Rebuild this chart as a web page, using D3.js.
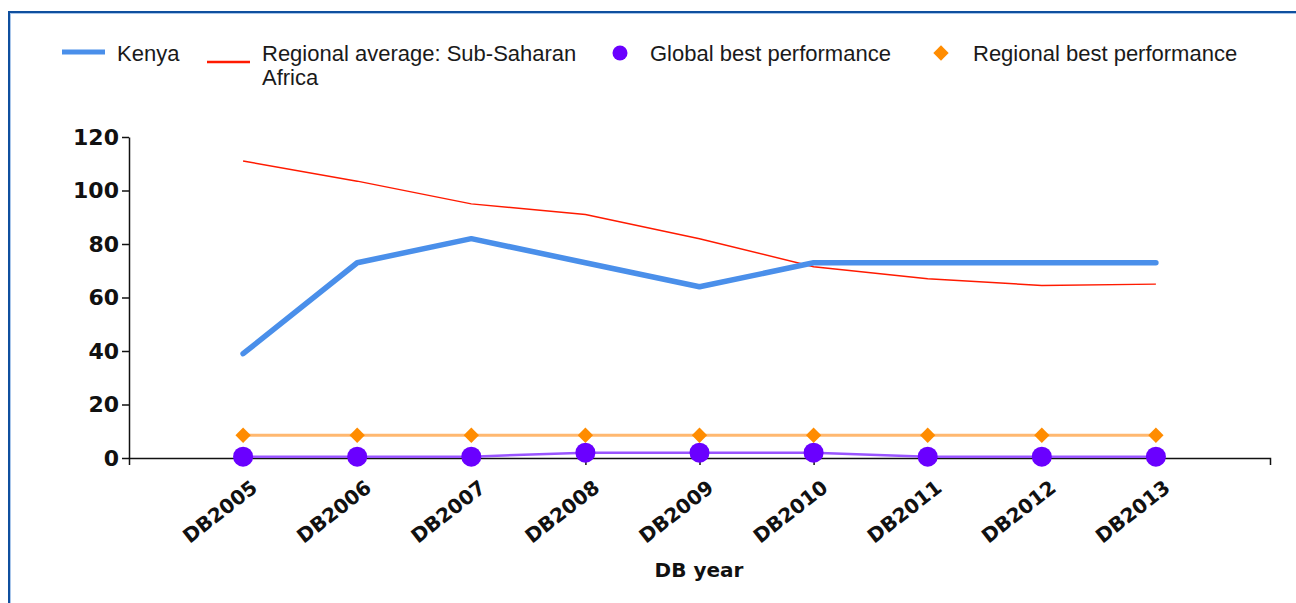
<!DOCTYPE html>
<html>
<head>
<meta charset="utf-8">
<script src="https://cdn.jsdelivr.net/npm/d3@7"></script>
<style>
  html, body { margin: 0; padding: 0; background: #fff; }
  svg { display: block; }
</style>
</head>
<body>
<div id="chart"></div>
<script>
//////////////////////
//  data            //
//////////////////////
const years = ["DB2005", "DB2006", "DB2007", "DB2008", "DB2009", "DB2010", "DB2011", "DB2012", "DB2013"];
const kenya = [39, 73, 82, 73, 64, 73, 73, 73, 73];
const regionalAvg = [111, 103.5, 95, 91, 82, 71.5, 67, 64.5, 65];
const globalBest = [0.5, 0.5, 0.5, 2, 2, 2, 0.5, 0.5, 0.5];
const regionalBest = [8.5, 8.5, 8.5, 8.5, 8.5, 8.5, 8.5, 8.5, 8.5];
const yTicks = [0, 20, 40, 60, 80, 100, 120];

//////////////////////
//  layout          //
//////////////////////
const WIDTH = 1296, HEIGHT = 603;
const AXIS = { LEFT: 129, RIGHT: 1270, TOP: 137, BOTTOM: 458 };
const COLORS = {
    kenya: "#4a8fea",
    avg: "#ff1a00",
    global: "#6a00ff",
    globalLine: "#9a55ff",
    regional: "#ff8c00",
    regionalLine: "#ffb870"
};

const svg = d3.select("#chart").append("svg")
    .attr("width", WIDTH)
    .attr("height", HEIGHT);

// frame
svg.append("rect").attr("x", 9).attr("y", 12).attr("width", WIDTH).attr("height", HEIGHT)
    .attr("fill", "none").attr("stroke", "#0f4f9e").attr("stroke-width", 2);
svg.append("rect").attr("x", 10.5).attr("y", 13.5).attr("width", WIDTH).attr("height", HEIGHT)
    .attr("fill", "none").attr("stroke", "#a9c6ea").attr("stroke-width", 1);

const x = d3.scalePoint().domain(years).range([AXIS.LEFT, AXIS.RIGHT]).padding(1);
const y = d3.scaleLinear().domain([0, 120]).range([AXIS.BOTTOM, AXIS.TOP]);

// y axis
const yAxis = svg.append("g")
    .attr("transform", `translate(${AXIS.LEFT},0)`)
    .call(d3.axisLeft(y).tickValues(yTicks).tickSize(7).tickPadding(3).tickSizeOuter(0));
yAxis.selectAll("text")
    .attr("font-family", "DejaVu Sans").attr("font-weight", "bold").attr("font-size", 22).attr("fill", "#111");

// x axis
const xAxis = svg.append("g")
    .attr("transform", `translate(0,${AXIS.BOTTOM})`)
    .call(d3.axisBottom(x).tickSize(7).tickSizeOuter(7).tickFormat(""));
xAxis.selectAll(".tick").append("text")
    .text(d => d)
    .attr("transform", "translate(4,18) rotate(-38)")
    .attr("text-anchor", "end")
    .attr("dy", "0.9em")
    .attr("font-family", "DejaVu Sans").attr("font-weight", "bold").attr("font-size", 20).attr("fill", "#111");
svg.selectAll(".domain, .tick line").attr("stroke", "#111").attr("stroke-width", 1.5);

svg.append("text")
    .attr("x", 699).attr("y", 577)
    .attr("text-anchor", "middle")
    .attr("font-family", "DejaVu Sans").attr("font-weight", "bold").attr("font-size", 20)
    .attr("fill", "#111")
    .text("DB year");

//////////////////////
//  series          //
//////////////////////
const line = d3.line().x((d, i) => x(years[i])).y(d => y(d));

svg.append("path").datum(regionalBest).attr("d", line)
    .attr("fill", "none").attr("stroke", COLORS.regionalLine).attr("stroke-width", 3);
svg.append("path").datum(globalBest).attr("d", line)
    .attr("fill", "none").attr("stroke", COLORS.globalLine).attr("stroke-width", 2.5);
svg.append("path").datum(regionalAvg).attr("d", line)
    .attr("fill", "none").attr("stroke", COLORS.avg).attr("stroke-width", 1.5);
svg.append("path").datum(kenya).attr("d", line)
    .attr("fill", "none").attr("stroke", COLORS.kenya).attr("stroke-width", 5.5)
    .attr("stroke-linejoin", "round").attr("stroke-linecap", "round");

svg.append("g").selectAll("circle").data(globalBest).join("circle")
    .attr("cx", (d, i) => x(years[i])).attr("cy", d => y(d)).attr("r", 10)
    .attr("fill", COLORS.global);

const diamond = d3.symbol().type(d3.symbolDiamond2).size(150);
svg.append("g").selectAll("path").data(regionalBest).join("path")
    .attr("d", diamond)
    .attr("transform", (d, i) => `translate(${x(years[i])},${y(d)})`)
    .attr("fill", COLORS.regional);

//////////////////////
//  legend          //
//////////////////////
const legend = svg.append("g")
    .attr("font-family", "Liberation Sans").attr("font-size", 22).attr("fill", "#1a1a1a");

legend.append("line").attr("x1", 62).attr("x2", 105).attr("y1", 52).attr("y2", 52)
    .attr("stroke", COLORS.kenya).attr("stroke-width", 5);
legend.append("text").attr("x", 117).attr("y", 61).text("Kenya");

legend.append("line").attr("x1", 207).attr("x2", 250).attr("y1", 62).attr("y2", 62)
    .attr("stroke", COLORS.avg).attr("stroke-width", 2.5);
legend.append("text").attr("x", 262).attr("y", 61).text("Regional average: Sub-Saharan");
legend.append("text").attr("x", 262).attr("y", 85).text("Africa");

legend.append("circle").attr("cx", 620).attr("cy", 53).attr("r", 7.5).attr("fill", COLORS.global);
legend.append("text").attr("x", 650).attr("y", 61).text("Global best performance");

legend.append("path").attr("d", diamond).attr("transform", "translate(941,53)").attr("fill", COLORS.regional);
legend.append("text").attr("x", 973).attr("y", 61).text("Regional best performance");
</script>
</body>
</html>
